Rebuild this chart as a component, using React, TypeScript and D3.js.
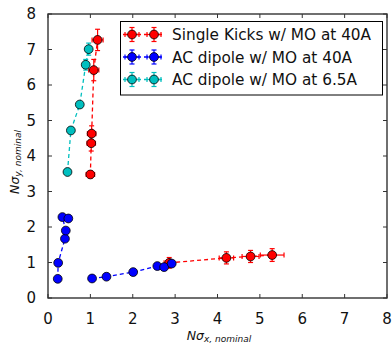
import React, { useEffect, useRef } from 'react'
import * as d3 from 'd3'

// Single Kicks w/ MO at 40A
const redX = [1.0, 1.02, 1.03, 1.08, 1.17, 2.86, 4.21, 4.78, 5.29]
const redY = [3.48, 4.36, 4.63, 6.42, 7.27, 0.99, 1.13, 1.17, 1.21]
const redXErr = [0.1, 0.1, 0.1, 0.12, 0.13, 0.12, 0.17, 0.2, 0.28]
const redYErr = [0.1, 0.22, 0.22, 0.3, 0.3, 0.15, 0.17, 0.17, 0.18]
const redSeg = [0, 0, 0, 0, 0, 1, 1, 1, 1]

// AC dipole w/ MO at 40A
const blueX = [0.23, 0.24, 0.4, 0.42, 0.34, 0.48, 1.04, 1.38, 2.01, 2.58, 2.74, 2.92]
const blueY = [0.54, 0.99, 1.67, 1.9, 2.28, 2.24, 0.55, 0.6, 0.73, 0.9, 0.87, 0.97]
const blueXErr = [0.02, 0.02, 0.02, 0.02, 0.02, 0.02, 0.03, 0.03, 0.04, 0.05, 0.05, 0.05]
const blueYErr = [0.02, 0.02, 0.03, 0.03, 0.03, 0.03, 0.02, 0.02, 0.02, 0.03, 0.03, 0.03]
const blueSeg = [0, 0, 0, 0, 0, 0, 1, 1, 1, 1, 1, 1]

// AC dipole w/ MO at 6.5A
const cyanX = [0.46, 0.54, 0.75, 0.89, 0.96]
const cyanY = [3.55, 4.72, 5.45, 6.57, 7.01]
const cyanXErr = [0.02, 0.02, 0.02, 0.02, 0.02]
const cyanYErr = [0.06, 0.06, 0.06, 0.15, 0.17]
const cyanSeg = [0, 0, 0, 0, 0]

const xTicks = [0, 1, 2, 3, 4, 5, 6, 7, 8]
const yTicks = [0, 1, 2, 3, 4, 5, 6, 7, 8]

const seriesNames = ['Single Kicks w/ MO at 40A', 'AC dipole w/ MO at 40A', 'AC dipole w/ MO at 6.5A']
const seriesColors = ['#ff0000', '#0000ff', '#00bfbf']

const FONT = 'DejaVu Sans, sans-serif'

export default function App() {
  const ref = useRef<SVGSVGElement>(null)

  useEffect(() => {
    const svg = d3.select(ref.current)
    svg.selectAll('*').remove()

    const left = 48, right = 387, top = 14, bottom = 298
    const x = d3.scaleLinear().domain([0, 8]).range([left, right])
    const y = d3.scaleLinear().domain([0, 8]).range([bottom, top])

    const all = [
      { xs: redX, ys: redY, xe: redXErr, ye: redYErr, seg: redSeg },
      { xs: blueX, ys: blueY, xe: blueXErr, ye: blueYErr, seg: blueSeg },
      { xs: cyanX, ys: cyanY, xe: cyanXErr, ye: cyanYErr, seg: cyanSeg },
    ]

    const g = svg.append('g')
    const line = d3.line<[number, number]>().x(d => x(d[0])).y(d => y(d[1]))

    all.forEach((s, si) => {
      const color = seriesColors[si]
      const sg = g.append('g')
      // dashed connecting lines, one path per segment
      const groups = d3.groups(s.xs.map((v, i) => i), i => s.seg[i])
      groups.forEach(([, idx]) => {
        sg.append('path')
          .attr('d', line(idx.map(i => [s.xs[i], s.ys[i]] as [number, number])))
          .attr('fill', 'none')
          .attr('stroke', color)
          .attr('stroke-width', 1.3)
          .attr('stroke-dasharray', '4,3')
      })
      // error bars
      s.xs.forEach((xv, i) => {
        const px = x(xv), py = y(s.ys[i])
        const x0 = x(xv - s.xe[i]), x1 = x(xv + s.xe[i])
        const y0 = y(s.ys[i] - s.ye[i]), y1 = y(s.ys[i] + s.ye[i])
        const eb = sg.append('g').attr('stroke', color).attr('stroke-width', 1.2)
        eb.append('line').attr('x1', x0).attr('x2', x1).attr('y1', py).attr('y2', py)
        eb.append('line').attr('x1', px).attr('x2', px).attr('y1', y0).attr('y2', y1)
        eb.append('line').attr('x1', x0).attr('x2', x0).attr('y1', py - 2.5).attr('y2', py + 2.5)
        eb.append('line').attr('x1', x1).attr('x2', x1).attr('y1', py - 2.5).attr('y2', py + 2.5)
        eb.append('line').attr('x1', px - 2.5).attr('x2', px + 2.5).attr('y1', y0).attr('y2', y0)
        eb.append('line').attr('x1', px - 2.5).attr('x2', px + 2.5).attr('y1', y1).attr('y2', y1)
      })
      sg.selectAll('circle.pt')
        .data(s.xs.map((v, i) => [v, s.ys[i]]))
        .enter().append('circle')
        .attr('class', 'pt')
        .attr('cx', d => x(d[0]))
        .attr('cy', d => y(d[1]))
        .attr('r', 4.4)
        .attr('fill', color)
        .attr('stroke', '#000')
        .attr('stroke-width', 0.8)
    })

    // frame
    g.append('rect')
      .attr('x', left).attr('y', top)
      .attr('width', right - left).attr('height', bottom - top)
      .attr('fill', 'none').attr('stroke', '#333').attr('stroke-width', 1.4)

    // ticks (inward, all four sides)
    const tl = 4
    xTicks.forEach(t => {
      g.append('line').attr('x1', x(t)).attr('x2', x(t)).attr('y1', bottom).attr('y2', bottom - tl).attr('stroke', '#333')
      g.append('line').attr('x1', x(t)).attr('x2', x(t)).attr('y1', top).attr('y2', top + tl).attr('stroke', '#333')
      g.append('text').text(t).attr('x', x(t)).attr('y', 324)
        .attr('text-anchor', 'middle').attr('font-family', FONT).attr('font-size', 15).attr('fill', '#111')
    })
    yTicks.forEach(t => {
      g.append('line').attr('x1', left).attr('x2', left + tl).attr('y1', y(t)).attr('y2', y(t)).attr('stroke', '#333')
      g.append('line').attr('x1', right).attr('x2', right - tl).attr('y1', y(t)).attr('y2', y(t)).attr('stroke', '#333')
      g.append('text').text(t).attr('x', 36).attr('y', y(t)).attr('dy', '0.36em')
        .attr('text-anchor', 'end').attr('font-family', FONT).attr('font-size', 15).attr('fill', '#111')
    })

    // axis labels
    const xl = g.append('text').attr('x', 219).attr('y', 339.5)
      .attr('text-anchor', 'middle').attr('font-family', FONT).attr('font-style', 'italic').attr('fill', '#111')
    xl.append('tspan').attr('font-size', 12.5).text('Nσ')
    xl.append('tspan').attr('font-size', 9).attr('dy', 2.5).text('x, nominal')

    const yl = g.append('text').attr('transform', 'translate(18.5,162) rotate(-90)')
      .attr('text-anchor', 'middle').attr('font-family', FONT).attr('font-style', 'italic').attr('fill', '#111')
    yl.append('tspan').attr('font-size', 12.5).text('Nσ')
    yl.append('tspan').attr('font-size', 9).attr('dy', 2.5).text('y, nominal')

    // legend
    const lg = g.append('g')
    lg.append('rect').attr('x', 120.5).attr('y', 21.5).attr('width', 262).attr('height', 73.5)
      .attr('fill', '#fff').attr('stroke', '#000').attr('stroke-width', 1)
    seriesNames.forEach((name, i) => {
      const cy = 34.5 + i * 22.5
      const color = seriesColors[i]
      const row = lg.append('g')
      row.append('line').attr('x1', 123).attr('x2', 164).attr('y1', cy).attr('y2', cy)
        .attr('stroke', color).attr('stroke-width', 1.3).attr('stroke-dasharray', '4,3')
      ;[132, 154].forEach(mx => {
        const eb = row.append('g').attr('stroke', color).attr('stroke-width', 1.2)
        eb.append('line').attr('x1', mx - 7).attr('x2', mx + 7).attr('y1', cy).attr('y2', cy)
        eb.append('line').attr('x1', mx).attr('x2', mx).attr('y1', cy - 7).attr('y2', cy + 7)
        eb.append('line').attr('x1', mx - 7).attr('x2', mx - 7).attr('y1', cy - 2.5).attr('y2', cy + 2.5)
        eb.append('line').attr('x1', mx + 7).attr('x2', mx + 7).attr('y1', cy - 2.5).attr('y2', cy + 2.5)
        eb.append('line').attr('x1', mx - 2.5).attr('x2', mx + 2.5).attr('y1', cy - 7).attr('y2', cy - 7)
        eb.append('line').attr('x1', mx - 2.5).attr('x2', mx + 2.5).attr('y1', cy + 7).attr('y2', cy + 7)
        row.append('circle').attr('cx', mx).attr('cy', cy).attr('r', 4.4)
          .attr('fill', color).attr('stroke', '#000').attr('stroke-width', 0.8)
      })
      row.append('text').text(name).attr('x', 172).attr('y', cy).attr('dy', '0.36em')
        .attr('font-family', FONT).attr('font-size', 15.3).attr('fill', '#111')
    })
  }, [])

  return (
    <svg ref={ref} width={392} height={344} style={{ position: 'absolute', left: 0, top: 0, background: '#fff' }} />
  )
}
